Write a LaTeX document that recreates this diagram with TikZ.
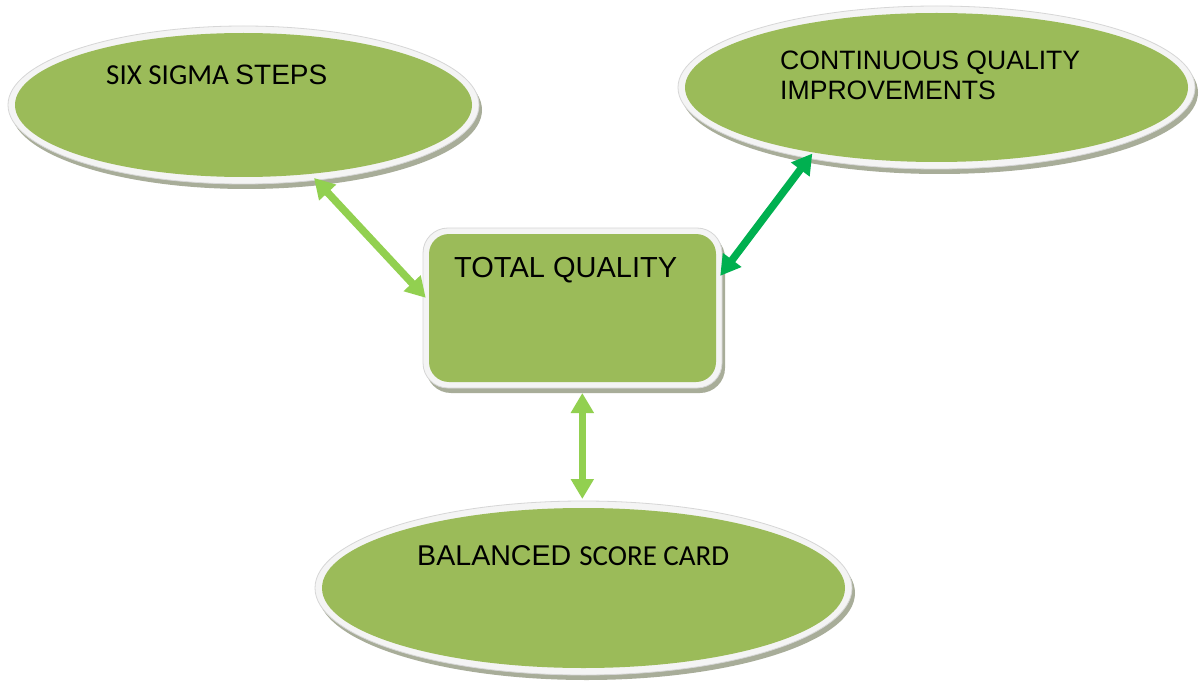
\documentclass[tikz,border=0pt]{standalone}
\usepackage{fontspec}
\newfontfamily\arialf{Liberation Sans}
\newfontfamily\calif{Carlito}
\usetikzlibrary{arrows.meta,shadows,shapes.geometric}
\definecolor{tqgreen}{RGB}{155,187,89}
\definecolor{rimcol}{RGB}{244,244,244}
\definecolor{rimline}{RGB}{214,214,214}
\definecolor{shcol}{RGB}{168,173,153}
\definecolor{lightarr}{RGB}{146,208,80}
\definecolor{darkarr}{RGB}{0,176,80}
\begin{document}
\begin{tikzpicture}[x=1pt,y=-1pt,
  shapebase/.style={fill=rimcol, draw=rimline, line width=0.8pt, inner sep=0pt, outer sep=0pt,
    drop shadow={shadow xshift=3pt, shadow yshift=-5pt, fill=shcol, opacity=1}},
  oval/.style n args={4}{shapebase, ellipse, minimum width=#1, minimum height=#2,
    path picture={\fill[tqgreen] (path picture bounding box.center) ellipse [x radius=#3, y radius=#4];}},
  roundbox/.style={shapebase, rectangle, rounded corners=25pt, minimum width=299pt, minimum height=160pt,
    path picture={\fill[tqgreen, rounded corners=20pt] ([shift={(6pt,6pt)}]path picture bounding box.south west) rectangle ([shift={(-6pt,-6pt)}]path picture bounding box.north east);}},
  txt/.style={inner sep=0pt, anchor=base west, text=black},
  biarrow/.style={line width=7.5pt, {Triangle[width=22pt,length=20pt]}-{Triangle[width=22pt,length=20pt]}},
]
\useasboundingbox[fill=white] (0,0) rectangle (1200,698);

\node[oval={471pt}{158pt}{228.5pt}{72pt}] (s1) at (243.5,105) {};
\node[oval={517pt}{163pt}{251.5pt}{74.5pt}] (s2) at (936.5,87.5) {};
\node[oval={537pt}{174pt}{261.5pt}{80pt}] (s3) at (583.5,588) {};
\node[roundbox] (tq) at (572.5,308) {};

\node[txt] (t1) at (106,85) {\calif\fontsize{29}{32}\selectfont SIX SIGMA \arialf\fontsize{28}{30}\selectfont STEPS};
\node[txt] (t2a) at (780,70) {\arialf\fontsize{26.6}{30}\selectfont CONTINUOUS QUALITY};
\node[txt] (t2b) at (780,100) {\arialf\fontsize{26.6}{30}\selectfont IMPROVEMENTS};
\node[txt] (t3) at (454,277) {\arialf\fontsize{29}{30}\selectfont TOTAL QUALITY};
\node[txt] (t4) at (417,565) {\arialf\fontsize{28.6}{30}\selectfont BALANCED \calif\fontsize{29}{32}\selectfont SCORE CARD};

\draw[biarrow, lightarr, shorten <=-4pt, shorten >=-3pt] (tq.175.2) -- (s1.-46.2);
\draw[biarrow, darkarr, shorten <=-3pt, shorten >=-6pt] (tq.13.3) -- (s2.-151.3);
\draw[biarrow, lightarr, shorten <=5pt, shorten >=2pt] (tq.-83.4) -- (tq.-83.4 |- s3.north);
\end{tikzpicture}
\end{document}
